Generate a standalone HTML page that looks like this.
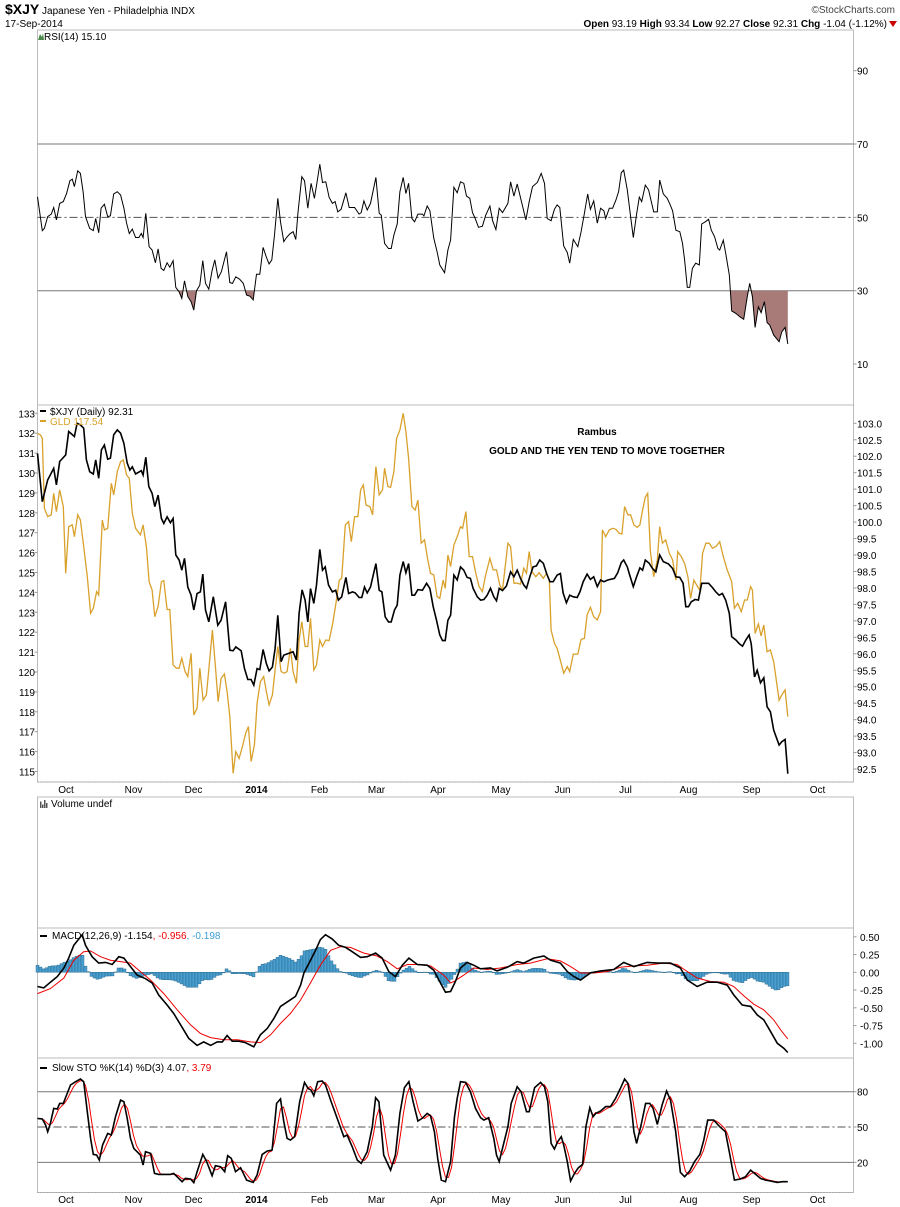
<!DOCTYPE html>
<html><head><meta charset="utf-8">
<style>
html,body{margin:0;padding:0;background:#fff;}
svg{display:block;font-family:"Liberation Sans","DejaVu Sans",sans-serif;}
</style></head>
<body>
<svg id="chart" width="900" height="1207" viewBox="0 0 900 1207" xmlns="http://www.w3.org/2000/svg">
  <rect x="0" y="0" width="900" height="1207" fill="#fff"/>
  <g>
    <text x="5" y="14" font-size="14" font-weight="bold" fill="#000">$XJY<tspan font-size="10" font-weight="normal"> Japanese Yen - Philadelphia INDX</tspan></text>
    <text x="5" y="27" font-size="10" fill="#000">17-Sep-2014</text>
    <text x="895" y="13" font-size="10" fill="#444" text-anchor="end">©StockCharts.com</text>
    <text x="887" y="27" font-size="10" fill="#000" text-anchor="end"><tspan font-weight="bold">Open</tspan> 93.19 <tspan font-weight="bold">High</tspan> 93.34 <tspan font-weight="bold">Low</tspan> 92.27 <tspan font-weight="bold">Close</tspan> 92.31 <tspan font-weight="bold">Chg</tspan> -1.04 (-1.12%)</text>
    <polygon points="889,21 897,21 893,27" fill="#c00"/>
  </g>
  <g id="frames"></g>
  <g id="rsi"></g>
  <g id="price"></g>
  <g id="vol"></g>
  <g id="macd"></g>
  <g id="sto"></g>
  <g id="xaxes"></g>
</svg>
<script>
// ---- DATA (day index, value) ----
const xjyDays=[0,1.6,3.4,5.4,6.3,7.4,9.4,10.4,12.3,13.2,14.3,15.4,16.3,17.4,18.6,19.4,20.4,21.3,22.3,23.4,24.3,25.4,26.6,27.7,28.8,29.9,30.8,31.6,32.7,34.6,35.2,36.1,37.1,38.2,39.1,40.2,41.3,42.1,43.2,44.3,45.2,46.1,47.2,48.1,49.0,50.1,51.2,52.1,53.2,54.3,55.1,56.0,57.1,58.6,60.1,61.2,62.7,64.1,65.2,66.1,67.9,69.0,70.1,71.2,72.1,73.2,74.1,75.2,76.3,77.2,78.3,79.2,80.1,81.2,82.1,85.2,86.3,87.2,88.2,89.2,90.1,91.0,92.1,93.0,94.1,95.0,95.9,97.0,98.3,99.4,100.3,101.4,102.8,103.7,105.0,105.9,107.2,108.1,109.0,109.9,111.0,112.8,113.9,114.8,115.9,117.0,117.9,119.0,119.9,120.8,121.9,122.8,123.7,124.8,125.7,126.8,128.3,129.7,130.8,131.9,133.0,134.1,135.0,135.9,136.8,137.7,138.8,139.9,141.0,142.1,143.2,144.3,145.2,146.6,147.7,148.8,149.9,151.0,152.1,153.0,153.9,155.0,156.3,157.7,158.8,159.9,161.0,162.1,163.0,164.1,165.2,166.3,167.4,168.6,169.7,170.8,171.9,173.2,174.3,175.2,176.3,177.4,178.6,179.9,180.8,181.9,183.2,184.3,185.4,186.6,187.7,188.8,190.1,192.3,193.4,194.6,195.4,196.6,197.4,198.6,199.7,200.8,201.7,202.6,203.9,205.0,206.1,207.4,208.6,210.3,211.7,212.8,214.1,215.2,216.1,217.0,217.9,219.2,220.3,221.4,223.7,225.0,226.1,227.2,228.3,229.4,230.6,231.4,232.8,233.9,235.0,236.1,237.2,237.9,239.0,239.9,241.0,242.1,243.2,244.3,245.4,247.2,248.1,249.2,250.1];
const xjyValues=[102.09,100.62,101.28,101.63,101.13,101.84,102.04,102.75,102.6,103.0,102.95,102.85,101.89,101.53,101.46,101.89,101.33,102.19,102.34,101.91,101.94,102.65,102.8,102.7,102.39,101.79,101.58,101.68,101.46,101.56,101.43,101.97,101.08,100.87,100.47,100.82,100.11,99.96,100.16,99.98,100.11,99.0,98.85,98.54,98.9,98.03,97.78,97.33,97.83,97.88,98.42,97.33,96.97,97.73,96.87,97.02,97.58,96.11,96.09,96.21,96.09,95.55,95.22,95.22,95.05,95.55,95.52,96.13,95.7,95.48,95.6,96.16,97.17,95.76,95.96,96.06,95.81,97.23,97.94,97.63,96.97,97.98,97.53,98.09,99.17,98.54,98.64,98.09,97.88,97.93,97.63,97.73,98.32,97.83,97.88,97.85,97.71,97.71,98.03,97.85,98.03,98.74,97.93,97.88,97.12,96.97,96.97,97.33,97.48,98.39,98.8,98.46,98.74,97.78,97.78,97.95,97.93,98.14,97.98,97.43,97.02,96.57,96.4,96.4,97.02,97.17,98.39,98.24,98.64,98.54,98.32,98.29,97.99,97.73,97.63,97.65,97.78,97.99,97.73,97.61,97.99,97.92,98.06,98.49,98.34,98.54,98.29,98.09,97.99,98.34,98.64,98.67,98.85,98.75,98.44,98.19,98.19,98.39,98.44,97.85,97.55,97.78,97.73,97.71,97.88,98.19,98.42,98.26,98.34,98.04,98.24,98.19,98.24,98.29,98.46,98.77,98.85,98.64,98.39,98.04,98.34,98.61,98.54,98.85,98.75,98.59,98.49,99.0,98.8,98.73,98.59,98.34,98.32,98.14,97.43,97.43,97.58,97.65,97.63,98.14,98.14,98.01,97.88,97.78,97.83,97.63,97.23,96.52,96.42,96.31,96.23,96.42,96.57,96.31,95.3,95.5,95.12,95.27,94.39,94.24,93.68,93.23,93.33,93.4,92.36];
const gldDays=[0,1.0,1.6,2.3,3.4,4.6,5.4,6.3,7.4,8.6,9.4,10.4,11.6,12.3,13.4,14.3,15.4,16.6,17.7,18.6,19.7,20.4,21.6,22.3,23.4,24.6,25.4,26.6,27.7,28.6,29.7,30.6,31.6,32.7,34.3,35.2,36.3,37.2,38.2,39.1,40.2,41.3,42.1,43.2,44.1,45.2,46.3,47.2,48.1,49.2,50.1,51.2,52.1,53.2,54.1,55.2,56.3,57.2,58.3,59.4,60.2,61.2,62.3,63.2,64.1,65.2,66.1,67.2,68.3,69.4,70.3,71.2,72.3,73.2,74.3,75.4,76.3,77.2,78.3,79.2,80.1,81.2,82.3,83.2,84.3,85.2,86.3,87.2,88.1,89.2,90.1,91.0,92.1,93.0,94.1,95.0,96.1,97.2,98.3,99.4,100.6,101.4,102.6,103.7,104.6,105.7,106.8,107.7,108.6,109.5,110.8,111.7,112.8,113.9,115.0,115.7,116.8,117.7,118.8,119.7,120.8,121.9,122.8,123.7,124.8,125.9,126.8,127.9,129.0,130.1,131.0,132.1,133.2,134.1,135.2,135.9,136.8,137.7,138.8,139.9,141.0,141.7,142.8,143.9,145.0,146.1,147.2,148.3,149.4,150.8,151.9,153.0,154.1,155.0,155.9,156.8,157.7,158.8,159.9,161.0,162.1,163.0,163.9,164.8,166.1,167.2,168.6,169.7,170.6,171.2,172.3,173.2,174.1,175.4,176.6,177.4,178.6,180.1,181.2,182.3,183.2,184.3,185.4,186.6,187.7,188.3,189.4,190.6,191.7,192.8,193.9,194.8,195.7,196.8,197.7,198.8,199.9,200.8,201.7,202.6,203.4,204.3,205.4,206.6,207.4,208.3,209.4,210.6,211.7,212.8,213.4,214.6,215.7,216.8,217.7,218.8,220.0,220.8,221.7,222.8,223.9,225.0,226.1,227.4,228.6,229.9,231.4,232.3,233.4,234.6,235.7,236.6,237.7,238.3,239.2,240.3,241.2,242.1,243.2,244.3,245.4,247.2,248.1,249.2,250.1];
const gldValues=[131.99,131.91,131.74,128.23,127.81,127.9,128.98,128.06,129.15,128.31,124.96,127.3,127.39,126.8,127.9,127.64,126.3,124.79,122.95,123.2,124.04,123.87,127.64,127.14,127.22,129.48,128.9,130.07,130.57,130.66,129.9,129.73,127.98,127.22,126.89,127.39,126.3,124.54,124.12,122.78,123.29,124.54,124.59,123.14,123.14,120.35,120.19,120.19,120.69,120.02,119.77,120.94,117.84,118.18,120.19,118.59,118.85,120.27,122.11,120.1,118.51,119.68,119.9,119.01,117.76,114.91,116.0,115.66,116.25,116.92,117.26,115.5,116.33,118.43,119.52,119.77,119.01,118.34,118.85,120.1,121.28,120.02,119.94,120.02,121.19,120.02,119.43,121.61,122.53,121.28,121.28,122.7,120.1,120.35,121.61,121.28,121.61,121.58,122.36,123.37,124.62,124.71,127.39,127.56,126.55,127.81,127.81,129.15,129.4,128.39,128.31,127.9,130.32,128.9,129.15,130.24,129.32,129.28,130.07,131.74,132.16,133.0,132.08,130.74,128.31,128.14,128.64,126.47,126.64,125.63,124.96,124.88,123.79,123.7,124.62,124.2,125.88,125.3,126.38,126.8,127.3,127.22,128.06,125.8,125.8,124.96,124.29,124.04,124.88,125.71,125.13,125.13,124.37,124.12,125.3,126.47,126.3,124.46,124.46,124.41,125.21,124.96,126.05,125.04,124.79,124.99,124.71,124.96,124.62,122.11,121.44,121.19,120.69,119.94,120.27,120.02,120.9,120.9,121.64,121.69,122.87,123.25,122.78,122.62,123.03,127.14,126.8,127.14,127.22,127.17,126.97,126.94,128.31,127.9,127.9,127.39,127.27,127.39,128.14,128.78,128.98,126.05,124.79,125.63,127.3,126.47,126.64,125.97,125.63,124.62,126.05,125.8,125.46,124.79,123.7,124.62,124.29,124.12,125.97,126.47,126.47,126.22,126.3,126.55,125.8,125.13,124.54,123.2,123.45,123.03,123.62,123.62,124.29,124.12,121.94,122.41,121.81,122.36,121.02,121.11,120.52,118.59,118.85,119.1,117.76];
const rsiDays=[0,1.6,2.3,3.4,4.6,5.4,6.3,7.4,8.6,9.7,10.8,11.6,12.3,13.4,14.3,15.2,16.0,17.4,18.6,19.4,20.4,21.2,22.3,23.4,24.3,25.4,26.6,27.7,28.8,29.7,30.6,31.6,32.7,33.8,34.6,35.2,36.1,37.2,38.2,39.3,40.2,41.2,42.1,43.2,44.1,45.2,46.1,47.2,48.1,49.0,50.1,51.2,52.1,53.0,54.1,55.1,56.0,57.1,58.2,59.1,60.2,61.3,63.0,64.1,65.0,66.1,67.4,68.6,69.7,70.8,71.9,73.0,74.1,75.2,76.3,77.2,78.1,79.0,80.1,81.0,82.1,83.0,84.1,85.2,86.1,86.8,88.1,89.0,90.1,91.2,92.3,93.2,94.1,95.0,96.1,97.2,98.3,99.2,100.1,101.2,102.8,103.9,105.7,107.2,107.9,108.8,109.9,111.0,112.8,113.9,114.6,115.7,117.0,117.9,118.8,119.9,120.8,121.9,122.8,123.7,124.8,125.7,126.8,128.3,128.8,129.9,130.8,132.1,133.2,134.1,135.7,136.8,137.7,138.8,139.9,141.0,142.1,143.0,144.1,145.0,145.9,147.0,148.3,149.4,150.8,151.7,152.8,153.9,155.0,156.8,157.7,158.8,159.9,161.2,162.8,163.9,165.0,166.6,167.9,169.0,169.9,171.2,172.3,173.2,174.1,175.4,176.6,177.4,178.6,180.1,181.2,182.3,183.4,184.3,185.4,186.6,187.7,188.8,189.4,190.6,191.7,192.8,193.7,194.6,195.4,196.6,197.7,198.6,199.7,200.6,201.4,202.6,203.7,204.6,205.4,206.6,207.4,208.6,209.9,210.8,211.7,212.8,214.1,215.0,215.7,216.6,217.4,218.3,219.4,220.6,221.4,222.6,223.7,224.6,225.7,226.8,227.4,228.6,229.4,230.6,231.4,232.8,234.1,235.4,236.6,237.4,238.3,239.2,240.3,241.2,242.3,243.2,244.1,245.4,247.2,248.1,249.2,250.1];
const rsiValues=[55.6,46.4,47.0,50.2,50.9,52.7,49.3,53.8,54.3,56.5,60.0,60.4,58.4,62.7,62.0,57.0,50.2,47.0,46.4,49.7,45.8,52.5,53.6,50.2,50.4,56.4,57.0,56.1,52.5,48.4,45.6,46.8,44.5,44.5,45.6,44.5,51.1,42.0,41.1,37.6,41.4,36.1,35.5,37.6,36.4,38.2,30.9,29.7,27.9,32.7,28.4,27.0,24.7,30.0,31.5,38.2,32.0,30.4,35.5,38.4,33.4,35.2,40.6,32.2,32.0,33.8,33.1,32.0,28.8,28.5,27.5,34.5,34.5,41.8,39.1,37.3,38.4,45.2,55.2,48.8,43.4,44.5,45.5,46.1,44.0,51.1,61.1,60.0,52.5,59.3,55.2,59.7,64.5,59.5,59.7,55.5,53.8,54.3,51.5,52.2,56.7,52.7,52.7,50.9,51.3,54.5,52.0,53.8,60.9,51.1,50.6,42.9,41.5,41.5,45.2,48.2,57.0,60.9,56.5,59.3,49.7,48.8,50.9,50.9,50.4,53.1,51.8,44.3,40.6,37.0,34.9,41.1,43.8,58.2,56.7,59.7,59.3,55.8,55.2,51.3,49.7,47.3,47.6,50.6,53.1,49.1,46.7,52.5,51.3,53.8,59.7,55.8,59.1,54.7,49.3,54.3,58.4,59.5,62.0,59.3,49.7,49.1,52.2,53.4,52.7,42.2,40.4,37.5,44.0,42.0,46.1,51.1,56.4,52.2,54.5,48.4,52.5,51.8,49.7,52.5,52.5,54.7,57.0,62.2,62.9,57.5,50.2,44.5,50.9,55.5,54.3,58.8,57.5,54.3,51.5,51.5,60.2,56.4,55.2,53.6,51.8,46.5,46.1,42.9,38.4,30.9,30.9,36.1,37.5,37.0,48.2,48.8,49.5,46.5,44.7,41.5,41.1,43.8,40.2,34.3,24.5,23.8,22.9,22.2,28.4,32.0,28.4,20.0,25.6,24.0,27.0,21.3,20.6,17.9,16.1,18.8,20.0,15.5];
const macdDays=[0,2.1,4.3,6.6,8.8,10.4,12.1,13.8,14.9,16.0,18.2,20.4,22.7,24.9,27.1,28.8,31.0,33.2,36.0,38.2,40.4,43.2,45.4,47.7,50.4,53.2,55.4,57.7,59.9,61.6,63.2,64.9,67.1,69.3,72.1,74.3,76.6,78.8,81.0,83.2,86.0,87.7,88.8,91.0,92.7,94.3,96.0,98.2,100.4,102.7,104.9,107.7,109.9,112.7,114.9,117.1,119.3,121.6,123.8,126.6,129.9,132.1,134.3,136.0,137.7,139.3,141.0,143.2,145.4,147.7,151.0,153.2,156.6,159.9,162.1,165.4,168.8,171.0,174.3,176.6,178.8,181.0,184.3,187.7,192.1,195.4,198.8,203.2,206.6,211.0,214.3,216.6,219.9,223.2,226.6,229.9,232.1,234.9,237.7,239.9,242.1,244.3,246.6,248.8,250.1];
const macdValues=[-0.20,-0.22,-0.14,-0.06,0.06,0.20,0.38,0.47,0.53,0.38,0.22,0.13,0.14,0.11,0.22,0.20,0.08,-0.04,-0.09,-0.15,-0.32,-0.46,-0.58,-0.74,-0.93,-1.03,-0.98,-1.03,-0.98,-0.98,-0.89,-0.97,-0.97,-0.99,-1.05,-0.88,-0.79,-0.65,-0.48,-0.42,-0.34,-0.18,-0.01,0.17,0.31,0.46,0.53,0.47,0.38,0.35,0.29,0.21,0.22,0.27,0.20,0.01,-0.06,0.10,0.20,0.11,0.10,0.03,-0.15,-0.28,-0.27,-0.13,0.06,0.14,0.10,0.05,0.06,0.02,0.07,0.15,0.13,0.20,0.23,0.17,0.13,0.01,-0.06,-0.11,-0.01,0.02,0.04,0.14,0.08,0.14,0.13,0.13,0.06,-0.11,-0.20,-0.14,-0.14,-0.18,-0.32,-0.46,-0.48,-0.60,-0.67,-0.83,-1.00,-1.07,-1.13];
const signalDays=[0,4.3,8.8,12.1,15.4,17.7,21.0,24.3,27.7,31.0,34.3,37.7,42.1,46.6,51.0,54.3,57.7,62.1,66.6,71.0,74.3,77.7,81.0,84.3,87.7,91.0,94.3,97.7,101.0,104.3,108.8,113.2,116.6,119.9,123.3,126.6,131.0,135.4,137.7,138.8,142.1,145.4,149.9,154.3,159.9,164.3,169.9,174.3,177.7,181.0,185.4,189.9,194.3,198.8,203.2,208.8,213.2,216.6,219.9,224.3,228.8,232.1,235.4,238.8,242.1,245.4,247.7,250.1];
const signalValues=[-0.30,-0.23,-0.08,0.17,0.29,0.30,0.22,0.17,0.15,0.13,0.01,-0.11,-0.30,-0.53,-0.74,-0.86,-0.92,-0.95,-0.95,-0.98,-0.99,-0.88,-0.72,-0.58,-0.39,-0.15,0.10,0.31,0.36,0.35,0.27,0.23,0.15,0.05,0.11,0.11,0.09,-0.04,-0.15,-0.13,-0.04,0.06,0.04,0.06,0.11,0.13,0.19,0.16,0.08,-0.01,-0.01,0.01,0.07,0.09,0.10,0.13,0.11,0.01,-0.08,-0.13,-0.14,-0.20,-0.33,-0.45,-0.53,-0.67,-0.81,-0.94];
const stoDays=[0,1.6,2.7,3.4,4.3,5.4,6.6,7.4,8.6,9.7,11.0,12.7,14.3,15.4,16.6,17.7,18.6,19.7,20.6,21.7,23.4,24.6,26.0,27.7,28.8,29.9,31.0,32.1,34.3,35.2,36.0,37.7,39.0,40.4,42.1,44.3,45.4,47.1,48.2,49.3,51.0,52.1,53.2,55.1,56.3,58.2,59.3,61.0,62.4,63.4,64.6,66.0,67.7,69.7,71.9,73.2,74.9,76.6,78.2,79.7,81.0,82.1,83.2,84.3,85.7,87.4,89.0,90.2,91.2,92.1,93.4,94.9,96.0,97.7,99.9,102.1,103.2,104.9,106.6,107.9,109.9,111.6,112.7,113.8,115.4,117.7,119.3,120.8,122.3,123.8,125.2,126.8,128.2,129.9,131.0,132.3,133.4,134.6,136.0,137.7,139.0,139.9,141.0,142.7,144.3,146.0,147.7,148.8,150.4,152.1,153.0,153.9,155.4,156.8,157.9,159.9,161.2,163.0,163.9,165.7,167.7,169.0,170.1,171.2,172.3,173.4,174.6,175.4,176.6,177.7,179.0,180.3,181.7,182.8,184.1,185.2,186.1,187.7,189.4,191.0,192.7,194.3,195.7,196.8,197.9,198.8,199.7,201.2,202.7,204.1,205.2,206.6,208.2,209.7,211.0,212.7,214.3,215.7,217.4,219.0,220.8,222.1,223.4,225.4,227.4,229.3,230.8,232.3,234.3,236.0,237.7,239.0,241.0,242.7,244.3,246.6,248.2,250.1];
const stoKValues=[57.3,56.8,51.7,46.0,53.1,65.8,65.3,70.1,70.1,77.2,85.7,88.5,90.8,88.5,63.0,40.3,26.7,26.2,21.9,34.7,44.6,43.2,58.8,72.9,71.5,57.3,40.3,31.8,26.2,17.7,29.0,27.6,10.6,9.7,9.7,9.7,10.6,6.3,3.5,6.3,5.8,2.7,12.0,26.7,21.1,8.6,17.1,16.3,12.0,25.6,23.3,12.0,15.4,4.9,2.9,9.2,26.7,29.6,30.4,70.1,73.8,54.5,40.3,38.9,41.8,71.5,87.9,82.8,81.4,76.6,88.5,89.1,85.7,72.9,57.3,41.8,43.2,33.3,21.9,19.1,29.0,50.3,74.9,71.5,26.2,13.4,26.2,61.6,83.4,88.5,71.5,55.1,57.3,61.6,59.6,46.0,23.3,4.9,3.5,20.5,58.8,74.3,88.5,87.9,80.0,65.8,57.9,55.9,57.9,40.3,26.2,20.5,36.1,50.3,70.1,84.2,80.0,63.0,63.0,83.4,87.9,84.2,71.5,36.1,31.3,37.5,41.8,34.7,20.5,4.1,10.6,15.4,18.2,50.3,66.4,58.8,61.6,63.6,67.3,67.3,74.3,82.8,90.8,87.1,68.7,46.0,36.1,51.7,70.1,70.1,65.8,52.2,68.7,80.6,72.9,46.6,11.4,7.8,12.6,20.5,26.7,38.9,55.9,55.9,50.3,46.0,26.2,4.9,5.8,7.8,13.4,10.6,6.3,4.9,4.1,2.9,3.5,3.5];
const monthLabels=["Oct","Nov","Dec","2014","Feb","Mar","Apr","May","Jun","Jul","Aug","Sep","Oct"];
const monthDays=[9.5,32,52,73,94,113,133.5,154.5,175,196,217,238,260];
const rsiTicks=[90,70,50,30,10];
const leftPriceTicks=[133,132,131,130,129,128,127,126,125,124,123,122,121,120,119,118,117,116,115];
const rightPriceTicks=[103.0,102.5,102.0,101.5,101.0,100.5,100.0,99.5,99.0,98.5,98.0,97.5,97.0,96.5,96.0,95.5,95.0,94.5,94.0,93.5,93.0,92.5];
const macdTicks=[0.50,0.25,0.00,-0.25,-0.50,-0.75,-1.00];
const stoTicks=[80,50,20];

// ---- geometry ----
const NS="http://www.w3.org/2000/svg";
const L=37.5,R=853.5;
const xDay=d=>L+d*3.0;
const yRsi=v=>290.7-(v-30)*3.667;
const yXjy=v=>423.3+(103-v)*32.93;
const yGld=v=>413.3+(133-v)*19.9;
const yMacd=v=>972.3-v*71;
const ySto=v=>1091.7+(80-v)*1.177;
function mk(parent,tag,attrs){const e=document.createElementNS(NS,tag);for(const k in attrs)e.setAttribute(k,attrs[k]);parent.appendChild(e);return e;}
function pts(days,vals,fy){return days.map((d,i)=>xDay(d).toFixed(1)+","+fy(vals[i]).toFixed(1)).join(" ");}
function interp(days,vals,d){if(d<=days[0])return vals[0];for(let i=1;i<days.length;i++){if(days[i]>=d){const t=(d-days[i-1])/(days[i]-days[i-1]);return vals[i-1]+t*(vals[i]-vals[i-1]);}}return vals[vals.length-1];}

// ---- frames ----
const fr=document.getElementById('frames');
const panels=[[30,405],[405,782],[797,928],[928,1058],[1058,1192.5]];
panels.forEach((p,i)=>{
  const r=mk(fr,'rect',{x:L,y:p[0],width:R-L,height:p[1]-p[0],fill:'none',stroke:'#bbb','stroke-width':1});
  
  
});
[782,1192.5].forEach(y=>{const l=mk(fr,'line',{x1:L,x2:R,y1:y,y2:y,stroke:'#999','stroke-dasharray':'1,2'});
  
  });

// ---- RSI ----
const rg=document.getElementById('rsi');
const rl=mk(rg,'text',{x:44,y:40,'font-size':10,fill:'#000'});rl.textContent="RSI(14) 15.10";


mk(rg,'polygon',{points:"38,40 40,34 42,37 43,33 44,40",fill:'#4a8a4a'});
[[70,'none'],[30,'none'],[50,'8,3,2,3']].forEach(h=>{const l=mk(rg,'line',{x1:L,x2:R,y1:yRsi(h[0]),y2:yRsi(h[0]),stroke:h[1]=='none'?'#777':'#555','stroke-width':1,'stroke-dasharray':h[1]});
  
  });
mk(rg,'clipPath',{id:'below30'}).appendChild(document.createElementNS(NS,'rect'));
const cr=rg.querySelector('#below30 rect');cr.setAttribute('x',0);cr.setAttribute('y',yRsi(30));cr.setAttribute('width',900);cr.setAttribute('height',200);
const fill=mk(rg,'polygon',{points:xDay(rsiDays[0])+","+yRsi(30)+" "+pts(rsiDays,rsiValues,yRsi)+" "+xDay(rsiDays[rsiDays.length-1])+","+yRsi(30),fill:'#a87a78','clip-path':'url(#below30)'});


const rline=mk(rg,'polyline',{points:pts(rsiDays,rsiValues,yRsi),fill:'none',stroke:'#000','stroke-width':1});


rsiTicks.forEach(t=>{const y=yRsi(t);mk(rg,'line',{x1:R,x2:R+3,y1:y,y2:y,stroke:'#999'});
  const tx=mk(rg,'text',{x:857,y:y+4,'font-size':10,fill:'#000'});tx.textContent=t;
  
  });

// ---- Price ----
const pg=document.getElementById('price');
const gl=mk(pg,'polyline',{points:pts(gldDays,gldValues,yGld),fill:'none',stroke:'#d9a12c','stroke-width':1.3});


const xl=mk(pg,'polyline',{points:pts(xjyDays,xjyValues,yXjy),fill:'none',stroke:'#000','stroke-width':1.6});


leftPriceTicks.forEach(t=>{const y=yGld(t);mk(pg,'line',{x1:L-3,x2:L,y1:y,y2:y,stroke:'#999'});
  const tx=mk(pg,'text',{x:35,y:y+4,'font-size':10,fill:'#000','text-anchor':'end'});tx.textContent=t;
  
  });
rightPriceTicks.forEach(t=>{const y=yXjy(t);mk(pg,'line',{x1:R,x2:R+3,y1:y,y2:y,stroke:'#999'});
  const tx=mk(pg,'text',{x:857,y:y+4,'font-size':10,fill:'#000'});tx.textContent=t.toFixed(1);
  
  });
mk(pg,'rect',{x:40,y:410,width:6,height:2,fill:'#000'});
const l1=mk(pg,'text',{x:50,y:415,'font-size':10,fill:'#000'});l1.textContent="$XJY (Daily) 92.31";


mk(pg,'rect',{x:40,y:420,width:6,height:2,fill:'#d9a12c'});
const l2=mk(pg,'text',{x:50,y:425,'font-size':10,fill:'#d9a12c'});l2.textContent="GLD 117.54";


const a1=mk(pg,'text',{x:597,y:435,'font-size':10,'font-weight':'bold',fill:'#000','text-anchor':'middle'});a1.textContent="Rambus";


const a2=mk(pg,'text',{x:607,y:454,'font-size':10,'font-weight':'bold',fill:'#000','text-anchor':'middle'});a2.textContent="GOLD AND THE YEN TEND TO MOVE TOGETHER";



// ---- Volume ----
const vg=document.getElementById('vol');
[[40,3],[42,1],[44,4],[46,2]].forEach(b=>mk(vg,'rect',{x:b[0],y:808-b[1]*1.5-2,width:1.5,height:b[1]*1.5+2,fill:'#555'}));
const vt=mk(vg,'text',{x:51,y:807,'font-size':10,fill:'#000'});vt.textContent="Volume undef";



// ---- MACD ----
const mg=document.getElementById('macd');
const hg=mk(mg,'g',{});


for(let d=0;d<=250;d++){
  const h=interp(macdDays,macdValues,d)-interp(signalDays,signalValues,d);
  const y0=yMacd(0),y1=yMacd(h);
  const b=mk(hg,'rect',{x:xDay(d)-1.5,y:Math.min(y0,y1),width:3,height:Math.max(0.5,Math.abs(y1-y0)),fill:'#4a9fd0',stroke:'#1f5f80','stroke-width':0.4});
  
  
}
const sl=mk(mg,'polyline',{points:pts(signalDays,signalValues,yMacd),fill:'none',stroke:'#e00','stroke-width':1});


const ml=mk(mg,'polyline',{points:pts(macdDays,macdValues,yMacd),fill:'none',stroke:'#000','stroke-width':1.6});


macdTicks.forEach(t=>{const y=yMacd(t);mk(mg,'line',{x1:R,x2:R+3,y1:y,y2:y,stroke:'#999'});
  const tx=mk(mg,'text',{x:860,y:y+4,'font-size':10,fill:'#000'});tx.textContent=t.toFixed(2);
  
  });
mk(mg,'rect',{x:40,y:935,width:7,height:2,fill:'#000'});
const mt=mk(mg,'text',{x:52,y:939,'font-size':10,fill:'#000'});
mt.innerHTML='MACD(12,26,9) -1.154<tspan fill="#e00">, -0.956</tspan><tspan fill="#3b9fd6">, -0.198</tspan>';



// ---- STO ----
const sg=document.getElementById('sto');
[[80,'none'],[20,'none'],[50,'8,3,2,3']].forEach(h=>{const l=mk(sg,'line',{x1:L,x2:R,y1:ySto(h[0]),y2:ySto(h[0]),stroke:h[1]=='none'?'#777':'#555','stroke-dasharray':h[1]});
  
  });
const dDays=[],dVals=[];
for(let d=2;d<=250;d++){dDays.push(d);dVals.push((interp(stoDays,stoKValues,d)+interp(stoDays,stoKValues,d-1)+interp(stoDays,stoKValues,d-2))/3);}
const dl=mk(sg,'polyline',{points:pts(dDays,dVals,ySto),fill:'none',stroke:'#e00','stroke-width':1});


const kl=mk(sg,'polyline',{points:pts(stoDays,stoKValues,ySto),fill:'none',stroke:'#000','stroke-width':1.6});


stoTicks.forEach(t=>{const y=ySto(t);mk(sg,'line',{x1:R,x2:R+3,y1:y,y2:y,stroke:'#999'});
  const tx=mk(sg,'text',{x:857,y:y+4,'font-size':10,fill:'#000'});tx.textContent=t;
  
  });
mk(sg,'rect',{x:40,y:1067,width:7,height:2,fill:'#000'});
const st=mk(sg,'text',{x:52,y:1071,'font-size':10,fill:'#000'});
st.innerHTML='Slow STO %K(14) %D(3) 4.07<tspan fill="#e00">, 3.79</tspan>';



// ---- X axes ----
const xg=document.getElementById('xaxes');
[793,1203].forEach(y=>{
  monthLabels.forEach((m,i)=>{
    const tx=mk(xg,'text',{x:xDay(monthDays[i]),y:y,'font-size':10,fill:'#000','text-anchor':'middle','font-weight':m==='2014'?'bold':'normal'});
    tx.textContent=m;
    
    
  });
});
</script>
</body></html>
